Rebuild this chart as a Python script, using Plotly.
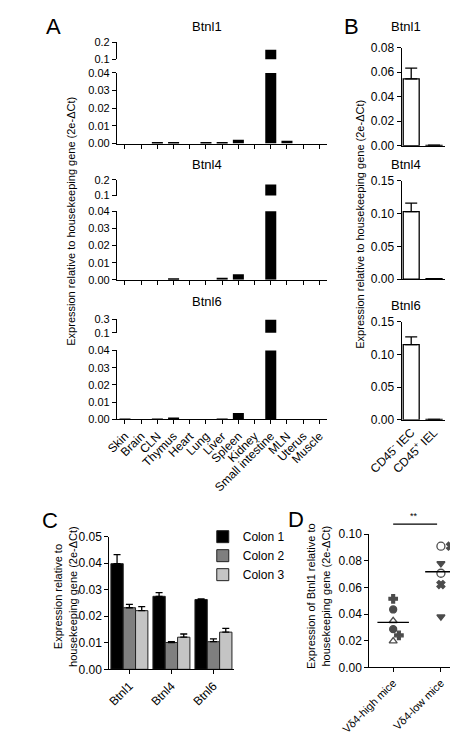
import plotly.graph_objects as go

W, H = 458, 736

# ---------------- data ----------------
tissues = ["Skin", "Brain", "CLN", "Thymus", "Heart", "Lung", "Liver", "Spleen",
           "Kidney", "Small intestine", "MLN", "Uterus", "Muscle"]
btnl1_tissue = [0.0, 0.0, 0.0008, 0.0007, 0.0, 0.0005, 0.0004, 0.0021, 0.0, 0.157, 0.0015, 0.0, 0.0]
btnl4_tissue = [0.0, 0.0, 0.0, 0.0010, 0.0, 0.0, 0.0012, 0.0033, 0.0, 0.170, 0.0, 0.0, 0.0]
btnl6_tissue = [0.0003, 0.0, 0.0003, 0.0009, 0.0, 0.0, 0.0004, 0.0038, 0.0, 0.290, 0.0, 0.0, 0.0]

b_cells = ["CD45<sup>-</sup> IEC", "CD45<sup>+</sup> IEL"]
b_btnl1 = [0.0545, 0.0004]
b_btnl1_err = [0.0088, 0.0001]
b_btnl4 = [0.103, 0.0008]
b_btnl4_err = [0.013, 0.0001]
b_btnl6 = [0.115, 0.0006]
b_btnl6_err = [0.012, 0.0001]

c_genes = ["Btnl1", "Btnl4", "Btnl6"]
colon1 = [0.0398, 0.0275, 0.0263]
colon1_err = [0.0034, 0.0014, 0.0002]
colon2 = [0.0232, 0.0101, 0.0104]
colon2_err = [0.0013, 0.0003, 0.0011]
colon3 = [0.0221, 0.0121, 0.0140]
colon3_err = [0.0015, 0.0012, 0.0014]

d_groups = ["Vδ4-high mice", "Vδ4-low mice"]
d_high = [0.0515, 0.0435, 0.035, 0.0287, 0.024, 0.0197]
d_high_symbols = ["cross", "circle", "triangle-up-open", "circle", "cross", "triangle-up-open"]
d_low = [0.091, 0.091, 0.078, 0.0707, 0.0622, 0.038]
d_low_symbols = ["circle-open", "x", "triangle-down", "circle-open", "x", "triangle-down"]
d_jitter_high = [0, 0, 0, 0, 0.12, 0]
d_jitter_low = [0, 0.2, 0, 0, 0, 0]

FONT = "Arial, Liberation Sans, sans-serif"

def xd(a, b):
    return [a / W, b / W]

def yd(top, bottom):
    return [1 - bottom / H, 1 - top / H]

base_axis = dict(showline=True, linecolor="black", linewidth=1, showgrid=False,
                 zeroline=False, ticks="outside", ticklen=4, tickwidth=1,
                 tickcolor="black", tickfont=dict(size=12, color="black", family=FONT))
a_tickfont = dict(size=11, color="black", family=FONT)

fig = go.Figure()
layout = {}

def axnames(n):
    s = "" if n == 1 else str(n)
    return "xaxis" + s, "yaxis" + s, "x" + s, "y" + s

def add_axes(n, xdom, ydom, xcfg, ycfg):
    xk, yk, xr, yr = axnames(n)
    xc = dict(base_axis); xc.update(xcfg); xc.update(domain=xdom, anchor=yr)
    yc = dict(base_axis); yc.update(ycfg); yc.update(domain=ydom, anchor=xr)
    layout[xk] = xc
    layout[yk] = yc
    return xr, yr

# ---------------- Panel A ----------------
A_x = xd(80, 308)
panelA = [
    (btnl1_tissue, (59, 131), (28, 45), [0.1, 0.2], False),
    (btnl4_tissue, (200, 270), (168, 184), [0.1, 0.2], False),
    (btnl6_tissue, (342, 412.3), (310, 324), [0.1, 0.3], True),
]
n = 1
for vals, low_dom, up_dom, up_range, show_labels in panelA:
    xr, yr = add_axes(n, A_x, yd(*low_dom),
                      dict(type="category", range=[-0.5, 12.5], showticklabels=show_labels,
                           tickangle=-45, categoryorder="array", categoryarray=tissues),
                      dict(range=[0, 0.04], tickvals=[0, 0.01, 0.02, 0.03, 0.04], tickformat=".2f",
                           tickfont=a_tickfont))
    fig.add_trace(go.Bar(x=tissues, y=vals, xaxis=xr, yaxis=yr, width=0.68,
                         marker=dict(color="black", line=dict(width=0)), showlegend=False))
    n += 1
    xr, yr = add_axes(n, A_x, yd(*up_dom),
                      dict(type="category", range=[-0.5, 12.5], visible=False,
                           categoryorder="array", categoryarray=tissues),
                      dict(range=up_range, tickvals=up_range,
                           ticktext=[f"{v:g}" for v in up_range],
                           tickfont=a_tickfont))
    fig.add_trace(go.Bar(x=tissues, y=vals, xaxis=xr, yaxis=yr, width=0.68,
                         marker=dict(color="black", line=dict(width=0)), showlegend=False))
    n += 1

# ---------------- Panel B ----------------
B_x = xd(388.3, 435)
panelB = [
    (b_btnl1, b_btnl1_err, (33.3, 133.3), [0, 0.08], [0, 0.02, 0.04, 0.06, 0.08], False),
    (b_btnl4, b_btnl4_err, (169, 269.3), [0, 0.15], [0, 0.05, 0.10, 0.15], False),
    (b_btnl6, b_btnl6_err, (312.7, 412.7), [0, 0.15], [0, 0.05, 0.10, 0.15], True),
]
for vals, errs, dom, rng, tv, show_labels in panelB:
    xr, yr = add_axes(n, B_x, yd(*dom),
                      dict(range=[-0.42, 1.47], tickvals=[0, 1], ticktext=b_cells, ticks="",
                           showticklabels=show_labels, tickangle=-45),
                      dict(range=rng, tickvals=tv, tickformat=".2f"))
    fig.add_trace(go.Bar(x=[0, 1], y=vals, xaxis=xr, yaxis=yr, width=0.7,
                         marker=dict(color="white", line=dict(color="black", width=1.3)),
                         error_y=dict(type="data", array=errs, arrayminus=[0, 0], symmetric=False,
                                      color="black", thickness=1.3, width=6),
                         showlegend=False))
    n += 1

# ---------------- Panel C ----------------
xr, yr = add_axes(n, xd(71.7, 207.3), yd(531.7, 667),
                  dict(type="category", range=[-0.48, 2.5], tickangle=-45),
                  dict(range=[0, 0.05], tickvals=[0, 0.01, 0.02, 0.03, 0.04, 0.05], tickformat=".2f"))
for name, vals, errs, col in [("Colon 1", colon1, colon1_err, "black"),
                              ("Colon 2", colon2, colon2_err, "#7f7f7f"),
                              ("Colon 3", colon3, colon3_err, "#c4c4c4")]:
    fig.add_trace(go.Bar(x=c_genes, y=vals, name=name, xaxis=xr, yaxis=yr,
                         marker=dict(color=col, line=dict(color="#222222", width=1)),
                         error_y=dict(type="data", array=errs, arrayminus=[0, 0, 0], symmetric=False,
                                      color="black", thickness=1.3, width=3.5)))
n += 1

# ---------------- Panel D ----------------
xr, yr = add_axes(n, xd(353.3, 456.7), yd(529.3, 665),
                  dict(range=[-0.5, 1.5], tickvals=[0, 1], ticktext=d_groups, tickangle=-45,
                       tickfont=dict(size=11, color="black", family=FONT)),
                  dict(range=[0, 0.1], tickvals=[0, 0.02, 0.04, 0.06, 0.08, 0.10], tickformat=".2f"))
for gi, (vals, syms, jit) in enumerate([(d_high, d_high_symbols, d_jitter_high),
                                        (d_low, d_low_symbols, d_jitter_low)]):
    sizes = [8 if s == "circle-open" else 7 for s in syms]
    fig.add_trace(go.Scatter(x=[gi + j for j in jit], y=vals, mode="markers", xaxis=xr, yaxis=yr,
                             marker=dict(symbol=syms, color="black", size=sizes,
                                         line=dict(color="black", width=1.3)),
                             showlegend=False, cliponaxis=False))
    m = sum(vals) / len(vals)
    fig.add_trace(go.Scatter(x=[gi - 0.33, gi + 0.33], y=[m, m], mode="lines", xaxis=xr, yaxis=yr,
                             line=dict(color="black", width=1.3), showlegend=False))
d_x = xr

# ---------------- annotations ----------------
anns = []

def ann(text, px, py, size, angle=0):
    anns.append(dict(text=text, x=px / W, y=1 - py / H, xref="paper", yref="paper",
                     showarrow=False, textangle=angle, xanchor="center", yanchor="middle",
                     font=dict(size=size, color="black", family=FONT)))

ann("A", 11, 12, 22)
ann("B", 334, 12, 22)
ann("C", 8, 515, 22)
ann("D", 274, 514, 22)
ann("Btnl1", 178, 12, 13)
ann("Btnl4", 178, 152, 13)
ann("Btnl6", 178, 292, 13)
ann("Btnl1", 393, 12, 13)
ann("Btnl4", 393, 152, 13)
ann("Btnl6", 393, 296, 13)
ylab = "Expression relative to housekeeping gene (2e-ΔCt)"
ann(ylab, 30, 210, 11, -90)
ann(ylab, 343, 213, 11, -90)
ann("Expression relative to<br>housekeeping gene (2e-ΔCt)", 24, 593, 11, -90)
ann("Expression of Btnl1 relative to<br>housekeeping gene (2e-ΔCt)", 298, 592, 11, -90)
ann("**", 402, 511, 9)

shapes = [dict(type="line", xref=d_x, yref="paper", x0=0, x1=0.92,
               y0=1 - 519 / H, y1=1 - 519 / H, line=dict(color="black", width=1.2))]

fig.update_layout(
    width=W, height=H, autosize=False,
    margin=dict(l=0, r=0, t=0, b=0),
    paper_bgcolor="white", plot_bgcolor="white",
    barmode="group", bargap=0.12, bargroupgap=0,
    font=dict(family=FONT, color="black"),
    annotations=anns, shapes=shapes,
    legend=dict(x=173 / W, y=1 - 517 / H, xanchor="left", yanchor="top",
                bgcolor="rgba(0,0,0,0)", font=dict(size=12, color="black", family=FONT),
                tracegroupgap=0, itemwidth=30),
    **layout,
)

fig.write_html("out.html")
